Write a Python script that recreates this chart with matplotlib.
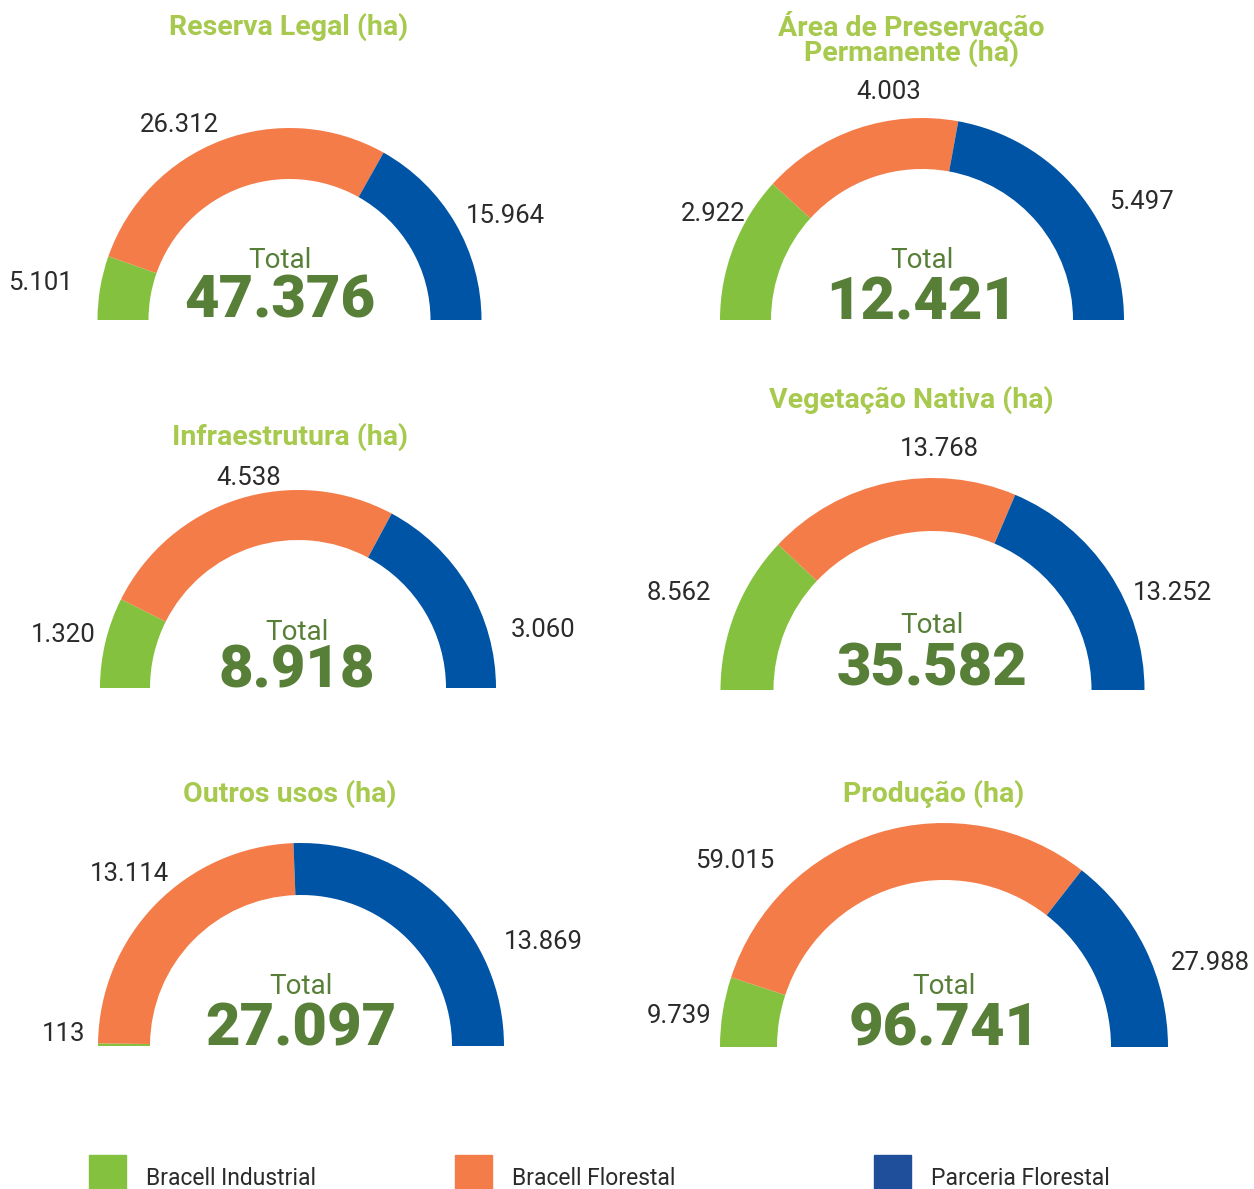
import matplotlib
matplotlib.use("Agg")
import matplotlib.pyplot as plt
from matplotlib.patches import Rectangle

W, H = 1254, 1189

# data
series = ["Bracell Industrial", "Bracell Florestal", "Parceria Florestal"]
titles = ["Reserva Legal (ha)", "Área de Preservação\nPermanente (ha)",
          "Infraestrutura (ha)", "Vegetação Nativa (ha)",
          "Outros usos (ha)", "Produção (ha)"]
industrial = [5101, 2922, 1320, 8562, 113, 9739]
florestal = [26312, 4003, 4538, 13768, 13114, 59015]
parceria = [15964, 5497, 3060, 13252, 13869, 27988]
totals = ["47.376", "12.421", "8.918", "35.582", "27.097", "96.741"]
value_labels = [["5.101", "26.312", "15.964"],
                ["2.922", "4.003", "5.497"],
                ["1.320", "4.538", "3.060"],
                ["8.562", "13.768", "13.252"],
                ["113", "13.114", "13.869"],
                ["9.739", "59.015", "27.988"]]

# layout (pixels): gauge center x, baseline y, outer radius, ring width
gauges = [(289.5, 320, 192, 51), (922, 320, 202, 51),
          (298, 688, 198, 50), (932.5, 690, 212, 53),
          (301, 1046, 203, 52), (944, 1047, 224, 57)]
title_pos = [(289, 27), (911, 39), (290, 437), (911, 400), (290, 794), (934, 794)]
label_pos = [[(40, 283), (179, 125), (505, 216)],
             [(713, 214), (889, 92), (1141, 202)],
             [(63, 635), (249, 478), (543, 630)],
             [(679, 593), (939, 449), (1172, 593)],
             [(64, 1034), (129, 874), (543, 942)],
             [(679, 1016), (735, 861), (1210, 963)]]
# center x, baseline of "Total", baseline of total value
total_pos = [(280, 268, 318), (922, 268, 320), (297, 640, 688),
             (932, 633, 685), (301, 994, 1046), (944, 994, 1046)]

colors = ["#84C13F", "#F47C48", "#0054A6"]
legend_colors = ["#84C13F", "#F47C48", "#1F4E9A"]
title_color = "#A6C94E"
total_color = "#577F37"
label_color = "#2B2B2B"

plt.rcParams["font.family"] = ["Roboto", "DejaVu Sans"]

fig = plt.figure(figsize=(W / 100, H / 100), dpi=100)
fig.patch.set_facecolor("white")

# gauges
for i, (cx, by, R, w) in enumerate(gauges):
    ax = fig.add_axes([(cx - R) / W, (H - by - R) / H, 2 * R / W, 2 * R / H])
    vals = [industrial[i], florestal[i], parceria[i]]
    ax.pie(vals + [sum(vals)], colors=colors + ["none"], startangle=180,
           counterclock=False, radius=1,
           wedgeprops=dict(width=w / R, linewidth=0))
    ax.set_xlim(-1, 1)
    ax.set_ylim(-1, 1)
    ax.axis("off")

# overlay for text and legend
ov = fig.add_axes([0, 0, 1, 1])
ov.set_xlim(0, W)
ov.set_ylim(H, 0)
ov.axis("off")
ov.patch.set_alpha(0)

for i in range(6):
    tx, ty = title_pos[i]
    ov.text(tx, ty, titles[i], ha="center", va="center", fontsize=20.5,
            fontweight="bold", color=title_color, linespacing=0.85)
    for j in range(3):
        lx, ly = label_pos[i][j]
        ov.text(lx, ly, value_labels[i][j], ha="center", va="center",
                fontsize=18.5, color=label_color)
    cx, ty1, ty2 = total_pos[i]
    ov.text(cx, ty1, "Total", ha="center", va="baseline", fontsize=20,
            color=total_color)
    ov.text(cx, ty2, totals[i], ha="center", va="baseline", fontsize=43,
            fontweight="black", color=total_color)

# legend
leg_x = [89, 455, 874]
for k, name in enumerate(series):
    ov.add_patch(Rectangle((leg_x[k], 1155), 37, 40, color=legend_colors[k],
                           clip_on=False))
    ov.text(leg_x[k] + 57, 1185, name, ha="left", va="baseline", fontsize=16.5,
            color=label_color)

fig.savefig("out.png", dpi=100)
